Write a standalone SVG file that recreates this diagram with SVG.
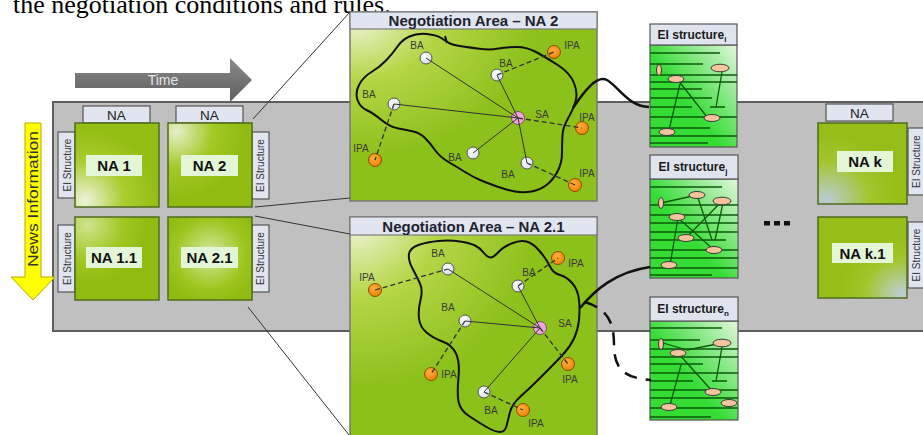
<svg xmlns="http://www.w3.org/2000/svg" width="923" height="435" viewBox="0 0 923 435">
<style>
.sans{font-family:"Liberation Sans",Arial,sans-serif}
.tab{fill:#e0e5f0;stroke:#555;stroke-width:1.2}
.node{stroke:#4f6b1c;stroke-width:1.5}
.lbl{fill:#e3f6d6}
.nat{font-family:"Liberation Sans",Arial,sans-serif;font-size:15px;font-weight:bold;fill:#111;text-anchor:middle}
.tabt{font-family:"Liberation Sans",Arial,sans-serif;font-size:13.5px;fill:#222;text-anchor:middle}
.eit{font-family:"Liberation Sans",Arial,sans-serif;font-size:10px;fill:#333;text-anchor:middle}
.ptitle{font-family:"Liberation Sans",Arial,sans-serif;font-size:15px;font-weight:bold;fill:#1e2230;text-anchor:middle}
.ag{font-family:"Liberation Sans",Arial,sans-serif;font-size:10px;fill:#3a3a3a;text-anchor:middle}
.ba{fill:url(#gBA);stroke:#555;stroke-width:1}
.ipa{fill:url(#gIPA);stroke:#8a4a00;stroke-width:1}
.sa{fill:#f0a8d8;stroke:#7a4a6a;stroke-width:1}
.blob{fill:none;stroke:#111;stroke-width:2}
.solid{stroke:#333;stroke-width:1;fill:none}
.dash{stroke:#333;stroke-width:1.3;fill:none;stroke-dasharray:5 3}
.eibox{fill:url(#gEI);stroke:#555;stroke-width:1.2}
.eihd{fill:#dfe4ef;stroke:#555;stroke-width:1.2}
.eil{stroke:#0a5a0a;stroke-width:1.3;fill:none}
.ov{fill:#f6c49c;stroke:#3a3a3a;stroke-width:1}
.eih{font-family:"Liberation Sans",Arial,sans-serif;font-size:12px;font-weight:bold;fill:#1a1a1a;text-anchor:middle}
.curve{fill:none;stroke:#111;stroke-width:2.5}
.zoomline{stroke:#333;stroke-width:1;fill:none}
</style>
<defs>
<radialGradient id="gNA1" cx="0.12" cy="0.92" r="0.85"><stop offset="0" stop-color="#eef3dc"/><stop offset="0.55" stop-color="#a9cd2e"/><stop offset="1" stop-color="#93be14"/></radialGradient>
<radialGradient id="gNA2" cx="0.1" cy="0.1" r="0.8"><stop offset="0" stop-color="#e6efc8"/><stop offset="0.55" stop-color="#a2c924"/><stop offset="1" stop-color="#90bc12"/></radialGradient>
<radialGradient id="gNA11" cx="0.15" cy="0.1" r="0.7"><stop offset="0" stop-color="#cfe48e"/><stop offset="0.6" stop-color="#9fc822"/><stop offset="1" stop-color="#90bc12"/></radialGradient>
<radialGradient id="gNA21" cx="0.5" cy="0.45" r="0.6"><stop offset="0" stop-color="#d4e8a0"/><stop offset="0.7" stop-color="#9cc61e"/><stop offset="1" stop-color="#90bc12"/></radialGradient>
<radialGradient id="gNAk" cx="0.1" cy="0.95" r="0.8"><stop offset="0" stop-color="#b9ccd6"/><stop offset="0.6" stop-color="#a2c62e"/><stop offset="1" stop-color="#95bf18"/></radialGradient>
<radialGradient id="gNAk1" cx="0.95" cy="0.95" r="0.7"><stop offset="0" stop-color="#bccfd8"/><stop offset="0.6" stop-color="#a2c62e"/><stop offset="1" stop-color="#95bf18"/></radialGradient>
<radialGradient id="gPanel" cx="0.02" cy="0.02" r="0.75"><stop offset="0" stop-color="#f0f6dc"/><stop offset="0.45" stop-color="#b4d646"/><stop offset="1" stop-color="#8cc01a"/></radialGradient>
<linearGradient id="gEI" x1="1" y1="0" x2="0.4" y2="0.55"><stop offset="0" stop-color="#e2f6de"/><stop offset="1" stop-color="#34dc34"/></linearGradient>
<linearGradient id="gTime" x1="0" y1="0" x2="0" y2="1"><stop offset="0" stop-color="#8a8a8a"/><stop offset="1" stop-color="#5e5e5e"/></linearGradient>
<radialGradient id="gBA" cx="0.4" cy="0.35" r="0.7"><stop offset="0" stop-color="#ffffff"/><stop offset="1" stop-color="#d6dceb"/></radialGradient>
<radialGradient id="gIPA" cx="0.4" cy="0.35" r="0.7"><stop offset="0" stop-color="#ffb040"/><stop offset="1" stop-color="#ee8000"/></radialGradient>
</defs>
<rect width="923" height="435" fill="#ffffff"/>
<text x="13" y="12.5" font-family="'Liberation Serif','Times New Roman',serif" font-size="26" fill="#000">the negotiation conditions and rules.</text>

<g id="band">
<rect x="53" y="102" width="875" height="229" fill="#c0c0c0" stroke="#5e5e5e" stroke-width="2"/>
</g>

<g id="time-arrow">
<polygon points="75,73 230,73 230,58 252,80 230,102 230,88 75,88" fill="url(#gTime)"/>
<text x="163" y="85" class="sans" font-size="14" fill="#e4e4e4" text-anchor="middle">Time</text>
</g>

<g id="news-arrow">
<polygon points="25,123 41,123 41,277 55,277 33,300 11,277 25,277" fill="#ffff00" stroke="#b8a800" stroke-width="1"/>
<text transform="translate(38,199) rotate(-90)" class="sans" font-size="15" fill="#333" text-anchor="middle" textLength="136" lengthAdjust="spacingAndGlyphs">News Information</text>
</g>

<g id="na1">
<rect class="tab" x="83" y="106" width="67" height="17"/><text class="tabt" x="116.5" y="119.5">NA</text>
<rect class="tab" x="58" y="132" width="17" height="66"/><text class="eit" transform="translate(71,165) rotate(-90)">EI Structure</text>
<rect class="node" x="75" y="123" width="84" height="84" fill="url(#gNA1)"/>
<rect class="lbl" x="86" y="155" width="56" height="21"/><text class="nat" x="114" y="171">NA 1</text>
</g>
<g id="na2">
<rect class="tab" x="176" y="106" width="67" height="17"/><text class="tabt" x="209.5" y="119.5">NA</text>
<rect class="tab" x="252" y="132" width="17" height="67"/><text class="eit" transform="translate(264,165.5) rotate(-90)">EI Structure</text>
<rect class="node" x="168" y="123" width="84" height="84" fill="url(#gNA2)"/>
<rect class="lbl" x="181" y="155" width="57" height="21"/><text class="nat" x="209.5" y="171">NA 2</text>
</g>
<g id="na1-1">
<rect class="tab" x="58" y="225" width="17" height="67"/><text class="eit" transform="translate(71,258.5) rotate(-90)">EI Structure</text>
<rect class="node" x="75" y="217" width="84" height="83" fill="url(#gNA11)"/>
<rect class="lbl" x="86" y="247" width="56" height="21"/><text class="nat" x="114" y="263">NA 1.1</text>
</g>
<g id="na2-1">
<rect class="tab" x="252" y="225" width="17" height="67"/><text class="eit" transform="translate(264,258.5) rotate(-90)">EI Structure</text>
<rect class="node" x="168" y="217" width="84" height="83" fill="url(#gNA21)"/>
<rect class="lbl" x="181" y="247" width="57" height="21"/><text class="nat" x="209.5" y="263">NA 2.1</text>
</g>

<g id="nak">
<rect class="tab" x="826" y="104" width="67" height="17"/><text class="tabt" x="859.5" y="117.5">NA</text>
<rect class="tab" x="908" y="128" width="16" height="67"/><text class="eit" transform="translate(920,161.5) rotate(-90)">EI Structure</text>
<rect class="node" x="818" y="123" width="89" height="81" fill="url(#gNAk)"/>
<rect class="lbl" x="837" y="151" width="56" height="21"/><text class="nat" x="865" y="167">NA k</text>
</g>
<g id="nak-1">
<rect class="tab" x="908" y="222" width="16" height="66"/><text class="eit" transform="translate(920,255) rotate(-90)">EI Structure</text>
<rect class="node" x="818" y="217" width="89" height="81" fill="url(#gNAk1)"/>
<rect class="lbl" x="832" y="243" width="61" height="20"/><text class="nat" x="862.5" y="258.5">NA k.1</text>
</g>

<g id="ellipsis" fill="#111">
<rect x="764" y="221" width="6" height="4.5"/><rect x="774" y="221" width="6" height="4.5"/><rect x="784" y="221" width="6" height="4.5"/>
</g>

<g id="panel-na2">
<rect x="350" y="12" width="247" height="189" fill="url(#gPanel)" stroke="#7a7a7a" stroke-width="1.5"/>
<rect x="350" y="12" width="247" height="17" fill="#e0e5ef" stroke="#7a7a7a" stroke-width="1.2"/>
<text class="ptitle" x="473.5" y="26">Negotiation Area – NA 2</text>
<path class="blob" d="M357.5,100 Q355,93 359,85 Q363,77 371.5,72 Q380,67 386.5,60 Q393,53 397.5,46.5 Q402,40 409.5,36.5 Q417,33 427,34 Q437,35 442,38.5 Q447,42 450,43.5 Q453,45 463,46.5 Q473,48 481.5,49 Q490,50 498.5,48.5 Q507,47 517,47 Q527,47 537,52.5 Q547,58 558.5,65.5 Q570,73 574,83 Q578,93 575.5,101.5 Q573,110 568,118.5 Q563,127 562.5,135 Q562,143 562,153 Q562,163 557.5,171.5 Q553,180 546.5,185 Q540,190 531.5,191.5 Q523,193 515,191.5 Q507,190 497,186.5 Q487,183 480,180 Q473,177 465,172 Q457,167 448.5,162 Q440,157 435,150 Q430,143 425,138 Q420,133 413.5,131.5 Q407,130 398.5,128.5 Q390,127 381.5,120 Q373,113 366.5,110 Q360,107 357.5,100 Z"/>
<path class="blob" d="M445,36 L447,43"/>
<circle class="ba" cx="426" cy="58" r="6"/><text class="ag" x="417" y="48.5">BA</text>
<circle class="ba" cx="497" cy="75" r="6"/><text class="ag" x="506" y="66.5">BA</text>
<circle class="ba" cx="394" cy="104" r="6"/><text class="ag" x="369" y="97.5">BA</text>
<circle class="ba" cx="473" cy="153" r="6"/><text class="ag" x="455" y="160.5">BA</text>
<circle class="ba" cx="527" cy="163" r="6"/><text class="ag" x="508" y="177.5">BA</text>
<circle class="sa" cx="518" cy="118" r="6.5"/><text class="ag" x="542" y="117.5">SA</text>
<circle class="ipa" cx="554" cy="52" r="6.5"/><text class="ag" x="572" y="48.5">IPA</text>
<circle class="ipa" cx="582" cy="128" r="6.5"/><text class="ag" x="587" y="120.5">IPA</text>
<circle class="ipa" cx="375" cy="160" r="6.5"/><text class="ag" x="361" y="151.5">IPA</text>
<circle class="ipa" cx="575" cy="185" r="6.5"/><text class="ag" x="587" y="176.5">IPA</text>
</g>

<g id="panel-na2-1">
<rect x="350" y="217" width="247" height="225" fill="url(#gPanel)" stroke="#7a7a7a" stroke-width="1.5"/>
<rect x="350" y="217" width="247" height="18" fill="#e0e5ef" stroke="#7a7a7a" stroke-width="1.2"/>
<text class="ptitle" x="473.5" y="231.5">Negotiation Area – NA 2.1</text>
<path class="blob" d="M409,254 Q410,248 418.5,245 Q427,242 438.5,241 Q450,240 460,241.5 Q470,243 475,245.5 Q480,248 483.5,252.5 Q487,257 490,257.5 Q493,258 498,252.5 Q503,247 511.5,243.5 Q520,240 526.5,241.5 Q533,243 540,251.5 Q547,260 550,266.5 Q553,273 560,275 Q567,277 572.5,283.5 Q578,290 579,300 Q580,310 579,320 Q578,330 574,338.5 Q570,347 562.5,355 Q555,363 542.5,375.5 Q530,388 521,396 Q512,404 510,412 Q508,420 506.5,426 Q505,432 500,432 Q495,432 486.5,427 Q478,422 469,416 Q460,410 458.5,401.5 Q457,393 458.5,377.5 Q460,362 456,353.5 Q452,345 442.5,341.5 Q433,338 426.5,332.5 Q420,327 419,318.5 Q418,310 420.5,300 Q423,290 420,283.5 Q417,277 412.5,268.5 Q408,260 409,254 Z"/>
<circle class="ba" cx="448" cy="269" r="6"/><text class="ag" x="438" y="256.5">BA</text>
<circle class="ba" cx="518" cy="286" r="6"/><text class="ag" x="529" y="275.5">BA</text>
<circle class="ba" cx="465" cy="321" r="6"/><text class="ag" x="448" y="310.5">BA</text>
<circle class="ba" cx="484" cy="392" r="6"/><text class="ag" x="491" y="413.5">BA</text>
<circle class="sa" cx="540" cy="328" r="6.5"/><text class="ag" x="565" y="326.5">SA</text>
<circle class="ipa" cx="375" cy="290" r="6.5"/><text class="ag" x="367" y="280.5">IPA</text>
<circle class="ipa" cx="558" cy="258" r="6.5"/><text class="ag" x="576" y="266.5">IPA</text>
<circle class="ipa" cx="431" cy="374" r="6.5"/><text class="ag" x="449" y="377.5">IPA</text>
<circle class="ipa" cx="568" cy="364" r="6.5"/><text class="ag" x="570" y="382.5">IPA</text>
<circle class="ipa" cx="523" cy="410" r="6.5"/><text class="ag" x="536" y="426.5">IPA</text>
</g>

<g id="ei-i">
<rect class="eibox" x="650" y="45" width="87" height="102"/>
<rect class="eihd" x="650" y="24" width="87" height="21"/>
<text class="eih" x="692" y="39">EI structure<tspan font-size="8" dy="3">i</tspan></text>
<path class="eil" d="M650,53H720M650,64H703M650,75H737M650,82H737M650,89H702M650,98H712M650,107H692M710,107H725M650,117H737M650,128H710M650,136H737M650,143H708"/>
<path class="eil" d="M678,80L707,117M680,84L669,130M722,72L716,107"/>
<ellipse class="ov" cx="659" cy="70" rx="2.5" ry="5.5"/>
<ellipse class="ov" cx="676" cy="79" rx="8" ry="3.5"/>
<ellipse class="ov" cx="720" cy="68" rx="9" ry="3.8"/>
<ellipse class="ov" cx="712" cy="118" rx="8" ry="3.5"/>
<ellipse class="ov" cx="667" cy="132" rx="8" ry="3.5"/>
</g>

<g id="ei-j">
<rect class="eibox" x="650" y="179" width="88" height="99"/>
<rect class="eihd" x="650" y="155" width="88" height="24"/>
<text class="eih" x="693" y="171">EI structure<tspan font-size="8" dy="3">j</tspan></text>
<path class="eil" d="M650,187H722M650,205H738M650,215H738M650,223H738M650,232H738M650,240H726M650,250H738M650,258H738M650,268H738M650,275H712"/>
<path class="eil" d="M661,203L697,195M697,195L712,240M723,203L715,240M677,217L714,250M670,265L678,218M686,238L722,201"/>
<ellipse class="ov" cx="661" cy="203" rx="2.5" ry="5.5"/>
<ellipse class="ov" cx="697" cy="195" rx="8" ry="3.5"/>
<ellipse class="ov" cx="722" cy="201" rx="9" ry="3.8"/>
<ellipse class="ov" cx="677" cy="217" rx="8" ry="3.5"/>
<ellipse class="ov" cx="686" cy="238" rx="8" ry="3.5"/>
<ellipse class="ov" cx="714" cy="250" rx="8" ry="3.5"/>
<ellipse class="ov" cx="669" cy="265" rx="8" ry="3.5"/>
</g>

<g id="ei-n">
<rect class="eibox" x="650" y="321" width="88" height="99"/>
<rect class="eihd" x="650" y="297" width="88" height="24"/>
<text class="eih" x="693" y="313">EI structure<tspan font-size="8" dy="3">n</tspan></text>
<path class="eil" d="M650,328H722M650,340H700M650,349H738M650,357H738M650,364H703M650,373H738M650,381H693M712,381H727M650,390H738M650,398H738M650,408H738M650,417H711"/>
<path class="eil" d="M663,343L687,350M687,350L722,343M678,353L713,392M681,365L670,405M722,347L716,381"/>
<ellipse class="ov" cx="661" cy="344" rx="2.5" ry="5.5"/>
<ellipse class="ov" cx="678" cy="353" rx="8" ry="3.5"/>
<ellipse class="ov" cx="722" cy="343" rx="9" ry="3.8"/>
<ellipse class="ov" cx="713" cy="392" rx="8" ry="3.5"/>
<ellipse class="ov" cx="729" cy="403" rx="8" ry="3.5"/>
<ellipse class="ov" cx="669" cy="407" rx="8" ry="3.5"/>
</g>

<g id="connectors">
<path class="zoomline" d="M253,119L350,12M255,207L350,198M255,216L350,234M248,307L349,435"/>
<path class="curve" d="M573,108 C585,90 597,75 607,80 C620,88 628,106 649,107"/>
<path class="curve" d="M580,308 C595,290 615,272 650,267"/>
<path class="curve" d="M585,302 C610,310 614,325 614,345 C614,370 625,378 651,380" stroke-dasharray="13 9"/>
<path class="solid" d="M518,118L426,58M518,118L497,75M518,118L394,104M518,118L473,153M518,118L527,163"/>
<path class="dash" d="M497,75L554,52M518,118L582,128M394,104L375,160M527,163L575,185"/>
<path class="solid" d="M540,328L448,269M540,328L518,286M540,328L465,321M540,328L484,392"/>
<path class="dash" d="M375,290L448,269M518,286L558,258M465,321L431,374M540,328L568,364M484,392L523,410"/>
</g>
</svg>
